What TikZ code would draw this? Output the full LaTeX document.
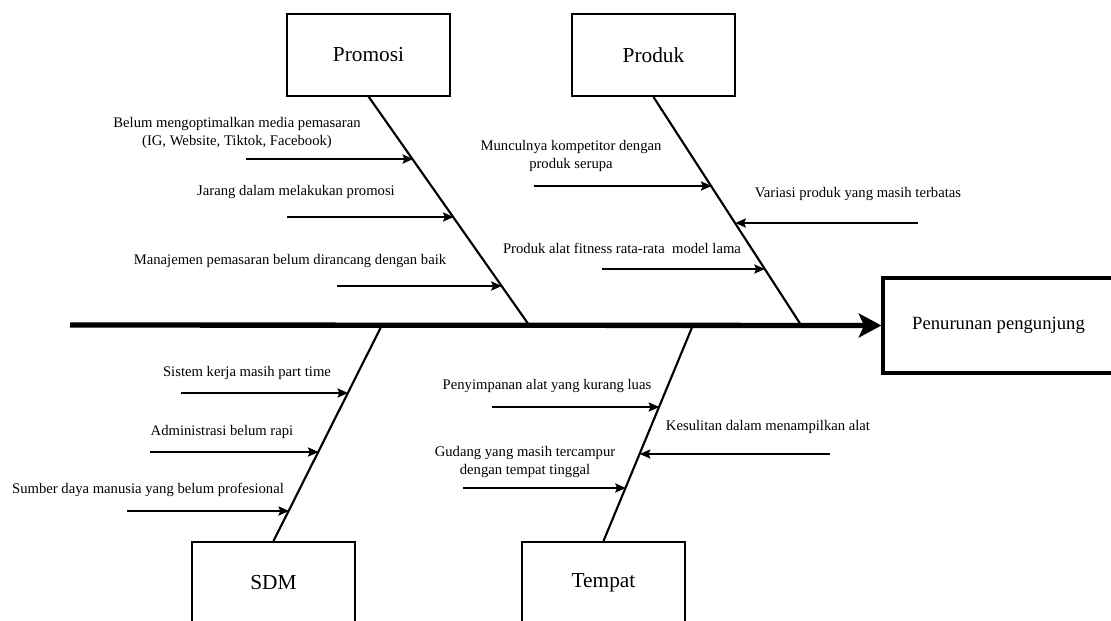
\documentclass[tikz,border=0pt]{standalone}
\usepackage{fontspec}
\setmainfont{Liberation Serif}
\usetikzlibrary{arrows.meta,calc}
\begin{document}
\begin{tikzpicture}[x=0.75pt,y=-0.75pt,
  cat/.style={draw,line width=1.5pt,minimum width=122.25pt,minimum height=61.5pt,inner sep=0pt,font=\fontsize{16}{19}\selectfont},
  effectbox/.style={draw,line width=2.4pt,minimum width=173.25pt,minimum height=71.25pt,inner sep=0pt,font=\fontsize{14}{17}\selectfont},
  bone/.style={line width=1.6pt},
  spine/.style={line width=4pt,-{Stealth[length=17pt,width=18pt,inset=4pt]}},
  cause/.style={line width=0.8pt,-{Stealth[length=8pt,width=7pt,inset=1.5pt]}},
  lbl/.style={font=\fontsize{11}{13.5}\selectfont,align=center,inner sep=0pt}]
\clip (0,0) rectangle (1111,621);
\useasboundingbox (0,0) rectangle (1111,621);

% category boxes
\node[cat] (promosi) at (368.5,54.5) {Promosi};
\node[cat] (produk) at (653.5,55) {Produk};
\node[cat] (sdm) at (273.5,583) {SDM};
\node[cat] (tempat) at (603.5,583) {Tempat};
\node[effectbox] (effect) at (998.5,325.5) {Penurunan pengunjung};

% spine
\coordinate (s0) at (70,325);
\draw[spine] (s0) -- (effect.west);

% bone ends on spine
\coordinate (pP) at (529,325);
\coordinate (pR) at (801,325);
\coordinate (pS) at (382,325);
\coordinate (pT) at (693,325);

\draw[bone] (promosi.south) -- (pP);
\draw[bone] (produk.south) -- (pR);
\draw[bone] (pS) -- (sdm.north);
\draw[bone] (pT) -- (tempat.north);

% points on bones
\coordinate (b1) at ($(promosi.south)!0.278!(pP)$);
\coordinate (b2) at ($(promosi.south)!0.530!(pP)$);
\coordinate (b3) at ($(promosi.south)!0.830!(pP)$);
\coordinate (r1) at ($(produk.south)!0.393!(pR)$);
\coordinate (r2) at ($(produk.south)!0.555!(pR)$);
\coordinate (r3) at ($(produk.south)!0.755!(pR)$);
\coordinate (d1) at ($(pS)!0.313!(sdm.north)$);
\coordinate (d2) at ($(pS)!0.585!(sdm.north)$);
\coordinate (d3) at ($(pS)!0.857!(sdm.north)$);
\coordinate (t1) at ($(pT)!0.378!(tempat.north)$);
\coordinate (t2) at ($(pT)!0.594!(tempat.north)$);
\coordinate (t3) at ($(pT)!0.751!(tempat.north)$);

% arrow tails
\coordinate (a1) at (246,159);
\coordinate (a2) at (287,217);
\coordinate (a3) at (337,286);
\coordinate (c1) at (534,186);
\coordinate (c2) at (918,223);
\coordinate (c3) at (602,269);
\coordinate (e1) at (181,393);
\coordinate (e2) at (150,452);
\coordinate (e3) at (127,511);
\coordinate (f1) at (492,407);
\coordinate (f2) at (830,454);
\coordinate (f3) at (463,488);

\draw[cause] (a1) -- (a1 -| b1);
\draw[cause] (a2) -- (a2 -| b2);
\draw[cause] (a3) -- (a3 -| b3);
\draw[cause] (c1) -- (c1 -| r1);
\draw[cause] (c2) -- (c2 -| r2);
\draw[cause] (c3) -- (c3 -| r3);
\draw[cause] (e1) -- (e1 -| d1);
\draw[cause] (e2) -- (e2 -| d2);
\draw[cause] (e3) -- (e3 -| d3);
\draw[cause] (f1) -- (f1 -| t1);
\draw[cause] (f2) -- (f2 -| t2);
\draw[cause] (f3) -- (f3 -| t3);

% labels
\node[lbl] (l1) at (237,133) {Belum mengoptimalkan media pemasaran\\(IG, Website, Tiktok, Facebook)};
\node[lbl] (l2) at (296,192) {Jarang dalam melakukan promosi};
\node[lbl] (l3) at (290,261) {Manajemen pemasaran belum dirancang dengan baik};
\node[lbl] (l4) at (571,156) {Munculnya kompetitor dengan\\produk serupa};
\node[lbl] (l5) at (858,194) {Variasi produk yang masih terbatas};
\node[lbl] (l6) at (622,248) {Produk alat fitness rata-rata~ model lama};
\node[lbl] (l7) at (247,373) {Sistem kerja masih part time};
\node[lbl] (l8) at (222,432) {Administrasi belum rapi};
\node[lbl] (l9) at (148,490) {Sumber daya manusia yang belum profesional};
\node[lbl] (l10) at (547,386) {Penyimpanan alat yang kurang luas};
\node[lbl] (l11) at (768,427) {Kesulitan dalam menampilkan alat};
\node[lbl] (l12) at (525,462) {Gudang yang masih tercampur\\dengan tempat tinggal};
\end{tikzpicture}
\end{document}
